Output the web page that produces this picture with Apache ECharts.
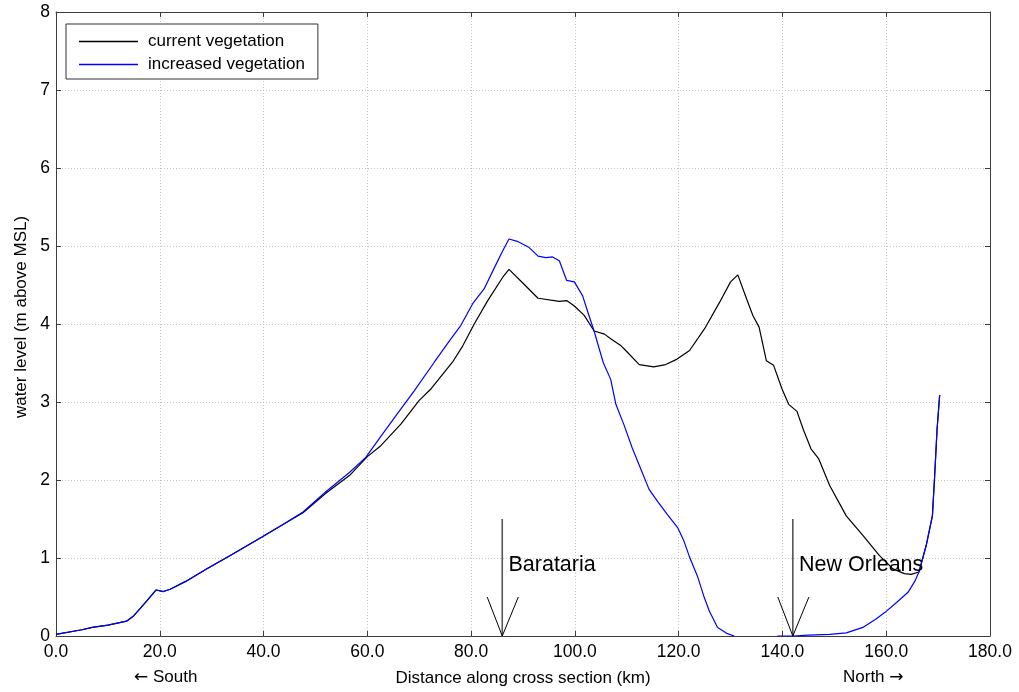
<!DOCTYPE html>
<html><head><meta charset="utf-8">
<script src="https://cdn.jsdelivr.net/npm/echarts@6/dist/echarts.min.js"></script>
<style>html,body{margin:0;padding:0;background:#fff}#c{width:1019px;height:692px}</style>
</head><body><div id="c"></div>
<script>
const seriesNames = ['current vegetation', 'increased vegetation'];
const seriesColors = ['#000000', '#0000ff'];
const xTicks = [0,20,40,60,80,100,120,140,160,180];
const yTicks = [0,1,2,3,4,5,6,7,8];

const currentKm = [0,5,7,10,13.6,15,16.2,17.5,19.3,20.7,22,25,29,33.5,39.7,43.5,47.6,52,56.6,60,62.6,66.5,70,72.3,76.4,78.4,80.6,83.2,86.1,87.3,90.2,92.9,97,98.4,99.9,101.8,103.7,105.7,106.9,108.9,109.8,112.4,115.2,117.5,119.7,122.1,125,127.9,130,131.4,133.1,134.3,135.5,136.9,138.3,139.9,141.2,142.8,144,145.5,147,149.1,152.3,155.5,158.7,161.3,163.5,164.8,166.3,167.7,168.9,169.3,169.8,170.3];
const currentLevel = [0.02,0.08,0.11,0.14,0.19,0.26,0.35,0.45,0.59,0.57,0.60,0.70,0.86,1.03,1.27,1.42,1.58,1.83,2.06,2.30,2.44,2.72,3.02,3.17,3.51,3.72,4.00,4.30,4.60,4.70,4.51,4.33,4.29,4.30,4.23,4.11,3.91,3.87,3.81,3.72,3.66,3.48,3.45,3.48,3.55,3.66,3.94,4.28,4.54,4.63,4.32,4.11,3.96,3.53,3.47,3.17,2.97,2.88,2.65,2.40,2.27,1.93,1.54,1.29,1.03,0.86,0.80,0.79,0.82,1.16,1.54,2.01,2.65,3.09];

const increasedKm = [0,5,7,10,13.6,15,16.2,17.5,19.3,20.7,22,25,29,33.5,39.7,43.5,47.6,52,56.6,59.7,62.5,65.8,69,72.9,76.1,78,80.3,82.5,84.4,86.1,87.3,88.9,91.2,92.9,94.4,95.7,97,98.4,99.9,101.5,102.5,103.7,104.7,105.5,106.9,107.9,109.5,111,112.7,114.3,116,117.8,119.8,121,122,123.6,124.8,125.9,127.5,129.4,130.7,135,139,142,145,149.1,152.3,155.5,158.1,159.7,162,164.2,165.5,166.3,167.7,168.9,169.3,169.8,170.3];
const increasedLevel = [0.02,0.08,0.11,0.14,0.19,0.26,0.35,0.45,0.59,0.57,0.60,0.70,0.86,1.03,1.27,1.42,1.59,1.85,2.10,2.29,2.55,2.85,3.14,3.51,3.81,3.98,4.26,4.45,4.71,4.94,5.09,5.06,4.98,4.87,4.85,4.86,4.81,4.56,4.54,4.36,4.15,3.91,3.68,3.50,3.29,2.97,2.70,2.42,2.14,1.88,1.72,1.56,1.39,1.22,1.03,0.77,0.52,0.32,0.11,0.03,0,null,0,0,0.01,0.02,0.04,0.11,0.22,0.30,0.43,0.56,0.70,0.82,1.16,1.54,2.01,2.65,3.09];

const siteNames = ['Barataria', 'New Orleans'];
const siteKm = [86, 142];

const zip = (a, b) => a.map((v, i) => [v, b[i]]);
const currentData = zip(currentKm, currentLevel);
const increasedData = zip(increasedKm, increasedLevel);
const siteData = siteKm.map((k, i) => [k, 0, siteNames[i]]);

const FONT = 'Liberation Sans, Arial, sans-serif';
const chart = echarts.init(document.getElementById('c'), null, {renderer: 'canvas'});
const frame = '#3c3c3c';
const baseAxis = {
  axisLine: {show: true, onZero: false, lineStyle: {color: frame, width: 1}},
  axisTick: {show: true, inside: true, length: 5, lineStyle: {color: frame}},
};
chart.setOption({
  animation: false,
  backgroundColor: '#fff',
  grid: {left: 56, right: 29, top: 12, bottom: 56, show: false},
  legend: {
    data: seriesNames.map((n, i) => ({
      name: n,
      itemStyle: {color: seriesColors[i], borderColor: seriesColors[i], borderWidth: 0}
    })),
    icon: 'path://M0,0H60V1.3H0Z',
    itemStyle: {borderWidth: 0},
    orient: 'vertical',
    left: 66, top: 24,
    itemWidth: 59, itemHeight: 1.3, itemGap: 6,
    padding: [9, 13, 6, 13],
    borderColor: '#333', borderWidth: 1, backgroundColor: '#fff',
    textStyle: {fontFamily: FONT, fontSize: 17, color: '#000', padding: [0, 0, 0, 5]},
  },
  xAxis: [
    Object.assign({}, baseAxis, {
      type: 'value', min: 0, max: 180, interval: 20, position: 'bottom',
      axisLabel: {formatter: v => v.toFixed(1), fontFamily: FONT, fontSize: 17.5, color: '#000', margin: 7},
      splitLine: {show: true, lineStyle: {color: '#c4c4c4', type: [1, 2], width: 1}},
      name: 'Distance along cross section (km)', nameLocation: 'middle', nameGap: 34,
      nameTextStyle: {fontFamily: FONT, fontSize: 17, color: '#000'},
    }),
    Object.assign({}, baseAxis, {
      type: 'value', min: 0, max: 180, interval: 20, position: 'top',
      axisLabel: {show: false}, splitLine: {show: false},
    }),
  ],
  yAxis: [
    Object.assign({}, baseAxis, {
      type: 'value', min: 0, max: 8, interval: 1, position: 'left',
      axisLabel: {fontFamily: FONT, fontSize: 17.5, color: '#000', margin: 6},
      splitLine: {show: true, lineStyle: {color: '#c4c4c4', type: [1, 2], width: 1}},
      name: 'water level (m above MSL)', nameLocation: 'middle', nameGap: 26, nameRotate: 90,
      nameTextStyle: {fontFamily: FONT, fontSize: 17, color: '#000', padding: [0, 0, 0, 14]},
    }),
    Object.assign({}, baseAxis, {
      type: 'value', min: 0, max: 8, interval: 1, position: 'right',
      axisLabel: {show: false}, splitLine: {show: false},
    }),
  ],
  graphic: [
    {type: 'text', left: 134, top: 669, style: {
      text: '{a|\u2190} South', font: '17px ' + FONT, fill: '#000',
      rich: {a: {fontFamily: 'DejaVu Sans', fontSize: 17, fill: '#000'}}
    }},
    {type: 'text', left: 843, top: 669, style: {
      text: 'North {a|\u2192}', font: '17px ' + FONT, fill: '#000',
      rich: {a: {fontFamily: 'DejaVu Sans', fontSize: 17, fill: '#000'}}
    }},
  ],
  series: [
    {
      name: seriesNames[0], type: 'line', data: currentData, showSymbol: false, symbol: 'none',
      lineStyle: {color: seriesColors[0], width: 1.2}, itemStyle: {color: seriesColors[0]}, z: 3, connectNulls: false,
    },
    {
      name: seriesNames[1], type: 'line', data: increasedData, showSymbol: false, symbol: 'none',
      lineStyle: {color: seriesColors[1], width: 1.2}, itemStyle: {color: seriesColors[1]}, z: 4, connectNulls: false,
    },
    {
      name: 'sites', type: 'custom', data: siteData, clip: false, z: 5, silent: true,
      encode: {x: 0, y: 1},
      renderItem: function (params, api) {
        const x = api.value(0);
        const name = siteNames[params.dataIndex];
        const top = api.coord([x, 1.5]);
        const tip = api.coord([x, 0]);
        const hl = api.coord([x - 2.9, 0.5]);
        const hr = api.coord([x + 3.1, 0.5]);
        const lab = api.coord([x + 1.2, 0.91]);
        return {
          type: 'group',
          children: [
            {type: 'line', shape: {x1: top[0], y1: top[1], x2: tip[0], y2: tip[1]}, style: {stroke: '#555', lineWidth: 1.6}},
            {type: 'line', shape: {x1: hl[0], y1: hl[1], x2: tip[0], y2: tip[1]}, style: {stroke: '#000', lineWidth: 1}},
            {type: 'line', shape: {x1: hr[0], y1: hr[1], x2: tip[0], y2: tip[1]}, style: {stroke: '#000', lineWidth: 1}},
            {type: 'text', x: lab[0], y: lab[1], style: {text: name, font: '21.5px ' + FONT, fill: '#000', verticalAlign: 'middle', align: 'left'}},
          ]
        };
      }
    }
  ]
});
</script>
</body></html>
